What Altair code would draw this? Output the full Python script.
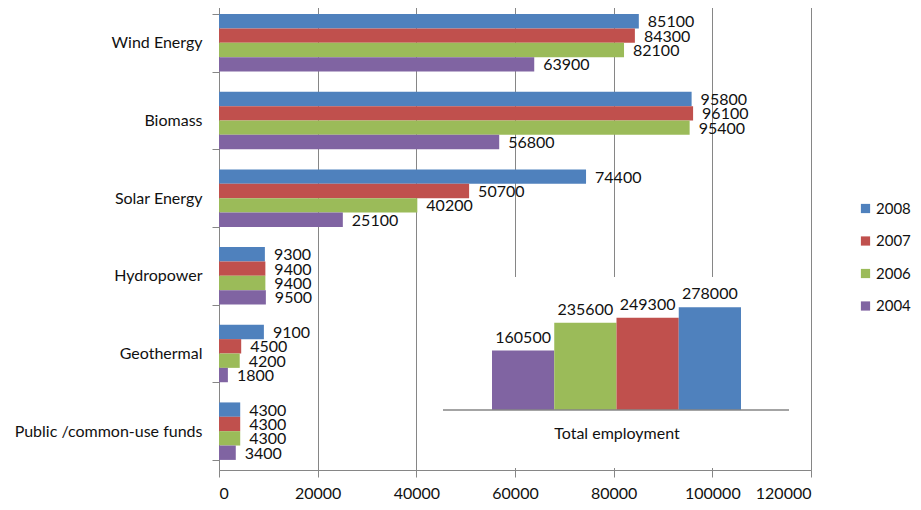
import altair as alt
import pandas as pd

categories = ["Wind Energy", "Biomass", "Solar Energy", "Hydropower", "Geothermal", "Public /common-use funds"]
years = ["2008", "2007", "2006", "2004"]
v2008 = [85100, 95800, 74400, 9300, 9100, 4300]
v2007 = [84300, 96100, 50700, 9400, 4500, 4300]
v2006 = [82100, 95400, 40200, 9400, 4200, 4300]
v2004 = [63900, 56800, 25100, 9500, 1800, 3400]

total_years = ["2004", "2006", "2007", "2008"]
total_values = [160500, 235600, 249300, 278000]

colors = ["#4F81BD", "#C0504D", "#9BBB59", "#8064A2"]
FONT = "Lato"
FS = 16
TXT = "#111111"
GRAY = "#868686"

series = {"2008": v2008, "2007": v2007, "2006": v2006, "2004": v2004}
rows = []
for y in years:
    for c, v in zip(categories, series[y]):
        rows.append({"category": c, "year": y, "value": v})
df = pd.DataFrame(rows)
tdf = pd.DataFrame({"year": total_years, "value": total_values})

color = alt.Color("year:N", scale=alt.Scale(domain=years, range=colors),
                  legend=alt.Legend(title=None, orient="none", legendX=639, legendY=197,
                                    padding=0, symbolType="square", symbolSize=85,
                                    symbolStrokeWidth=0, labelFont=FONT, labelFontSize=15,
                                    labelColor=TXT, rowPadding=16.5, labelOffset=3,
                                    labelLimit=100))

yenc = alt.Y("category:N", sort=categories,
             scale=alt.Scale(paddingInner=0.26, paddingOuter=0.13),
             axis=alt.Axis(title=None, tickBand="extent", grid=False, domainColor=GRAY,
                           tickColor=GRAY, tickSize=7, labelFont=FONT, labelFontSize=FS,
                           labelColor=TXT, labelPadding=10, labelLimit=300))
xenc = alt.X("value:Q", scale=alt.Scale(domain=[0, 120000]),
             axis=alt.Axis(title=None, values=[0, 20000, 40000, 60000, 80000, 100000, 120000],
                           format="d", grid=True, gridColor=GRAY, gridOpacity=1,
                           domainColor=GRAY, tickColor=GRAY, tickSize=7,
                           labelFont=FONT, labelFontSize=FS, labelColor=TXT,
                           labelPadding=8))
yoff = alt.YOffset("year:N", sort=years, scale=alt.Scale(paddingInner=0, paddingOuter=0))

base = alt.Chart(df)
bars = base.mark_bar().encode(x=xenc, y=yenc, yOffset=yoff, color=color)
labels = base.mark_text(align="left", baseline="middle", dx=9, dy=1, font=FONT,
                        fontSize=FS, color=TXT).encode(
    x="value:Q", y=alt.Y("category:N", sort=categories), yOffset=yoff, text="value:Q")

main = alt.layer(bars, labels)

cover = alt.Chart(alt.Data(values=[{}])).mark_rect(fill="white").encode(
    x=alt.value(221), x2=alt.value(584), y=alt.value(273), y2=alt.value(464))

iscale = alt.Scale(domain=[0, 300000], range=[406, 295])
ix = alt.X("year:N", sort=total_years,
           scale=alt.Scale(range=[273, 522], paddingInner=0, paddingOuter=0), axis=None)
iy = alt.Y("value:Q", scale=iscale, axis=None)
ibase = alt.Chart(tdf)
ibars = ibase.mark_bar().encode(x=ix, y=iy, color=alt.Color("year:N", legend=None))
itext = ibase.mark_text(baseline="bottom", dy=-5, font=FONT, fontSize=FS,
                        color=TXT).encode(x=ix, y=iy, text="value:Q")
irule = alt.Chart(alt.Data(values=[{"v": 0}])).mark_rule(color=GRAY, strokeWidth=1.5).encode(
    y=alt.Y("v:Q", scale=iscale, axis=None),
    x=alt.value(224), x2=alt.value(570))
ititle = alt.Chart(alt.Data(values=[{"t": "Total employment"}])).mark_text(
    font=FONT, fontSize=FS, color=TXT, baseline="middle").encode(
    x=alt.value(398), y=alt.value(430), text="t:N")

inset = alt.layer(ibars, itext, irule).resolve_scale(x="shared", y="shared")

chart = alt.layer(main, cover, inset, ititle).resolve_scale(
    x="independent", y="independent").properties(
    width=592, height=466, autosize="none",
    padding={"left": 211, "top": -4, "right": 102, "bottom": 32}
).configure_view(stroke=None).configure(background="white")

chart.save("out.html", embed_options={"renderer": "svg", "actions": False})
